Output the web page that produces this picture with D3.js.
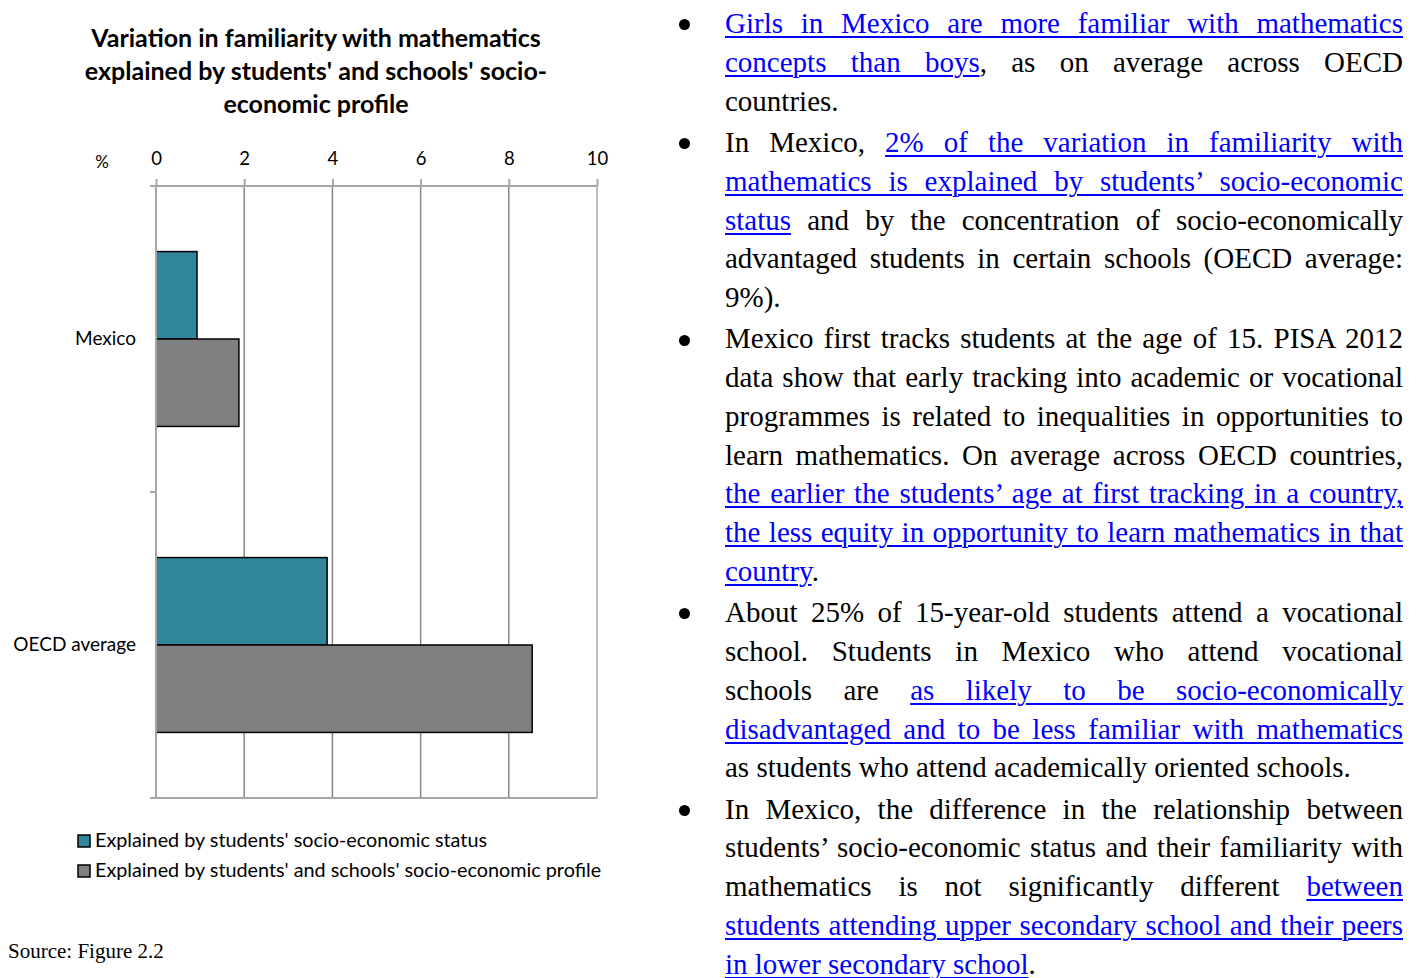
<!DOCTYPE html>
<html><head><meta charset="utf-8">
<script src="https://cdn.jsdelivr.net/npm/d3@7"></script>
<style>
body{margin:0;background:#fff;width:1422px;height:978px;overflow:hidden;position:relative;}
#chart{position:absolute;left:0;top:0;}
#text{position:absolute;left:0;top:0;width:1422px;height:978px;font-family:"Liberation Serif","Times New Roman",serif;font-size:29px;color:#000;}
.line{position:absolute;left:725px;white-space:nowrap;line-height:38.6px;}
.lk{color:#0000ff;text-decoration:underline;text-decoration-thickness:2px;text-underline-offset:3px;}
.bullet{position:absolute;width:11px;height:11px;border-radius:50%;background:#000;}
</style></head><body>
<svg id="chart" width="660" height="978"></svg>
<div id="text"></div>
<script>
// ---- chart data ----
const categories = ["Mexico", "OECD average"];
const seriesNames = ["Explained by students' socio-economic status",
                     "Explained by students' and schools' socio-economic profile"];
const seriesSES = [0.93, 3.88];
const seriesProfile = [1.88, 8.53];
const xTicks = [0, 2, 4, 6, 8, 10];
const titleLines = ["Variation in familiarity with mathematics",
                    "explained by students' and schools' socio-",
                    "economic profile"];
const unitLabel = "%";
const sourceNote = "Source: Figure 2.2";
const seriesColors = ["#31859c", "#808080"];

// ---- right-hand text (segments: [text, isLink]) ----
const paragraphs = [
  [
    [["Girls in Mexico are more familiar with mathematics", 1]],
    [["concepts than boys", 1], [", as on average across OECD", 0]],
    [["countries.", 0]]
  ],
  [
    [["In Mexico, ", 0], ["2% of the variation in familiarity with", 1]],
    [["mathematics is explained by students’ socio-economic", 1]],
    [["status", 1], [" and by the concentration of socio-economically", 0]],
    [["advantaged students in certain schools (OECD average:", 0]],
    [["9%).", 0]]
  ],
  [
    [["Mexico first tracks students at the age of 15. PISA 2012", 0]],
    [["data show that early tracking into academic or vocational", 0]],
    [["programmes is related to inequalities in opportunities to", 0]],
    [["learn mathematics. On average across OECD countries,", 0]],
    [["the earlier the students’ age at first tracking in a country,", 1]],
    [["the less equity in opportunity to learn mathematics in that", 1]],
    [["country", 1], [".", 0]]
  ],
  [
    [["About 25% of 15-year-old students attend a vocational", 0]],
    [["school. Students in Mexico who attend vocational", 0]],
    [["schools are ", 0], ["as likely to be socio-economically", 1]],
    [["disadvantaged and to be less familiar with mathematics", 1]],
    [["as students who attend academically oriented schools.", 0]]
  ],
  [
    [["In Mexico, the difference in the relationship between", 0]],
    [["students’ socio-economic status and their familiarity with", 0]],
    [["mathematics is not significantly different ", 0], ["between", 1]],
    [["students attending upper secondary school and their peers", 1]],
    [["in lower secondary school", 1], [".", 0]]
  ]
];

// ---- chart ----
const svg = d3.select("#chart");
const x = d3.scaleLinear().domain([0, 10]).range([156, 597]);
const y = d3.scaleBand().domain(categories).range([186, 798]).padding(0);
const ySub = d3.scaleBand().domain([0, 1]).range([0, y.bandwidth()]).paddingInner(0).paddingOuter(0.75);
const chartFont = "Lato, 'Open Sans', sans-serif";

// title
svg.append("g").selectAll("text").data(titleLines).join("text")
  .attr("x", 316).attr("y", (d, i) => 46.5 + i * 33)
  .attr("text-anchor", "middle")
  .style("font-family", chartFont).style("font-weight", "bold").style("font-size", "25px")
  .attr("fill", "#000").text(d => d);

// gridlines
svg.append("g").selectAll("line").data(xTicks.slice(1)).join("line")
  .attr("x1", d => x(d)).attr("x2", d => x(d))
  .attr("y1", y.range()[0]).attr("y2", y.range()[1])
  .attr("stroke", (d, i, a) => i === a.length - 1 ? "#a6a6a6" : "#878787")
  .attr("stroke-width", 1.5);

// bottom border
svg.append("line").attr("x1", 150).attr("x2", x(10)).attr("y1", y.range()[1]).attr("y2", y.range()[1])
  .attr("stroke", "#a6a6a6").attr("stroke-width", 2);

// bars
const seriesData = [seriesSES, seriesProfile];
seriesData.forEach((vals, si) => {
  svg.append("g").selectAll("rect").data(categories).join("rect")
    .attr("x", x(0))
    .attr("y", (c) => y(c) + ySub(si))
    .attr("width", (c, i) => x(vals[i]) - x(0))
    .attr("height", ySub.bandwidth())
    .attr("fill", seriesColors[si])
    .attr("stroke", "#000").attr("stroke-width", 1.5);
});

// top axis
const topAxis = svg.append("g").attr("transform", `translate(0,${y.range()[0]})`)
  .call(d3.axisTop(x).tickValues(xTicks).tickSize(7).tickPadding(14).tickSizeOuter(0));
topAxis.select(".domain").remove();
topAxis.selectAll(".tick line").attr("stroke", "#a6a6a6").attr("stroke-width", 2);
topAxis.selectAll(".tick text").style("font-family", chartFont).style("font-size", "18.5px").attr("fill", "#000");
svg.append("line").attr("x1", 150).attr("x2", x(10)).attr("y1", y.range()[0]).attr("y2", y.range()[0])
  .attr("stroke", "#a6a6a6").attr("stroke-width", 2);

// left axis
svg.append("line").attr("x1", x(0)).attr("x2", x(0)).attr("y1", y.range()[0]).attr("y2", y.range()[1])
  .attr("stroke", "#a6a6a6").attr("stroke-width", 2);
const bounds = categories.map(c => y(c)).concat([y.range()[1]]);
svg.append("g").selectAll("line").data(bounds).join("line")
  .attr("x1", 150).attr("x2", x(0)).attr("y1", d => d).attr("y2", d => d)
  .attr("stroke", "#a6a6a6").attr("stroke-width", 2);
const leftAxis = svg.append("g").attr("transform", `translate(${x(0)},0)`)
  .call(d3.axisLeft(y).tickSize(0).tickPadding(20));
leftAxis.select(".domain").remove();
leftAxis.selectAll(".tick text").style("font-family", chartFont).style("font-size", "19px").attr("fill", "#000");

// unit label
svg.append("text").attr("x", 102).attr("y", 168).attr("text-anchor", "middle")
  .style("font-family", chartFont).style("font-size", "17px").text(unitLabel);

// legend
const leg = svg.append("g").selectAll("g").data(seriesNames).join("g")
  .attr("transform", (d, i) => `translate(78,${835 + i * 30})`);
leg.append("rect").attr("width", 12).attr("height", 12)
  .attr("fill", (d, i) => seriesColors[i]).attr("stroke", "#000").attr("stroke-width", 1.5);
leg.append("text").attr("x", 17).attr("y", 12)
  .style("font-family", chartFont).style("font-size", "19.8px").text(d => d);

// source
svg.append("text").attr("x", 8).attr("y", 958)
  .style("font-family", "'Liberation Serif', 'Times New Roman', serif").style("font-size", "21px")
  .text(sourceNote);

// ---- right text ----
const textDiv = d3.select("#text");
const lineW = 678;
let lineIdx = 0;
paragraphs.forEach((para, pi) => {
  para.forEach((segs, li) => {
    const baseline = 33.3 + lineIdx * 38.75 + pi * 2.6;
    const div = textDiv.append("div").attr("class", "line")
      .style("top", (baseline - 29.1) + "px");
    segs.forEach(([t, isLink]) => {
      div.append("span").attr("class", isLink ? "lk" : null).text(t);
    });
    if (li === 0) {
      textDiv.append("div").attr("class", "bullet")
        .style("left", (684 - 5.5) + "px").style("top", (baseline - 8.5 - 5.5) + "px");
    }
    if (li < para.length - 1) {
      const node = div.node();
      const natural = node.getBoundingClientRect().width;
      const nSpaces = (node.textContent.match(/ /g) || []).length;
      if (nSpaces > 0) div.style("word-spacing", ((lineW - natural) / nSpaces) + "px");
    }
    lineIdx++;
  });
});
</script>
</body></html>
